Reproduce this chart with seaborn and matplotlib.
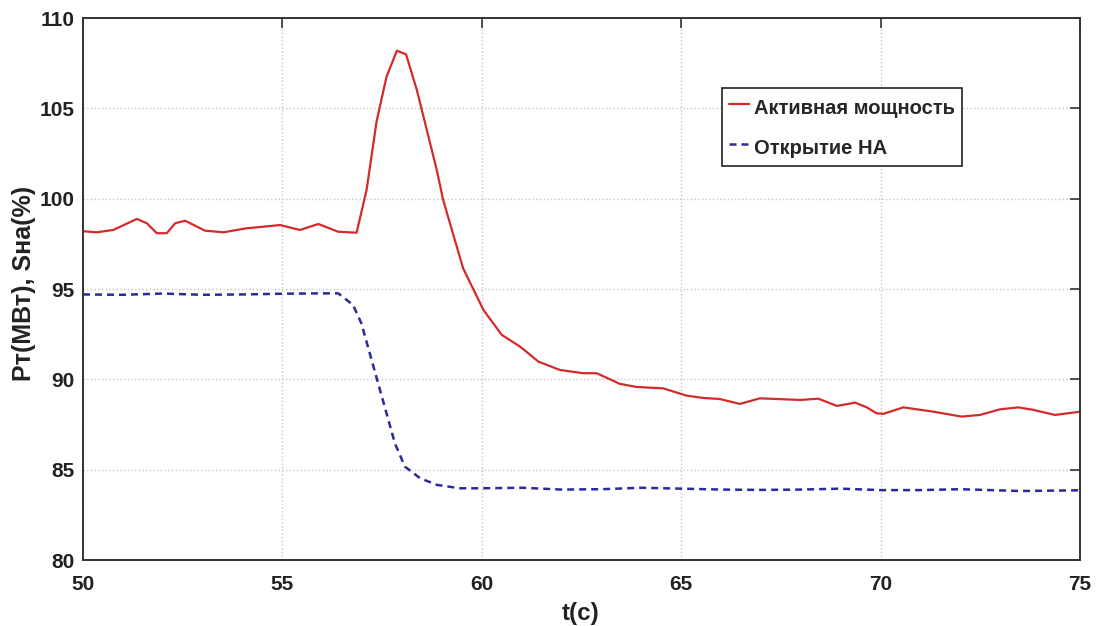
import matplotlib
matplotlib.use("Agg")
import matplotlib.pyplot as plt
import seaborn as sns

# --- данные ---
t_p = [50.0, 50.34, 50.76, 51.35, 51.6, 51.85, 52.1, 52.31, 52.56, 53.06, 53.52,
       54.1, 54.94, 55.44, 55.9, 56.4, 56.86, 57.11, 57.36, 57.61, 57.87, 58.1,
       58.37, 58.87, 59.03, 59.53, 60.04, 60.5, 60.96, 61.42, 61.96, 62.54, 62.88,
       63.46, 63.88, 64.55, 65.13, 65.55, 65.97, 66.47, 66.97, 67.98, 68.44, 68.9,
       69.36, 69.65, 69.9, 70.07, 70.57, 71.32, 72.03, 72.49, 72.99, 73.45, 73.83,
       74.37, 75.0]
p_vals = [98.2, 98.14, 98.27, 98.88, 98.64, 98.09, 98.09, 98.64, 98.78, 98.23, 98.14,
          98.36, 98.54, 98.27, 98.6, 98.17, 98.12, 100.48, 104.26, 106.75, 108.19, 107.99,
          106.02, 101.59, 99.93, 96.15, 93.84, 92.46, 91.81, 90.98, 90.52, 90.34, 90.34,
          89.75, 89.58, 89.5, 89.1, 88.97, 88.91, 88.64, 88.95, 88.86, 88.93, 88.53,
          88.71, 88.45, 88.12, 88.09, 88.45, 88.21, 87.94, 88.03, 88.34, 88.45, 88.31,
          88.03, 88.21]

t_s = [50.0, 51.0, 52.0, 53.0, 54.0, 55.0, 55.94, 56.4, 56.77, 56.98, 57.19, 57.4,
       57.61, 57.82, 58.07, 58.45, 58.87, 59.45, 59.95, 61.0, 62.0, 63.0, 64.0,
       65.0, 66.0, 67.0, 68.0, 69.0, 70.0, 71.0, 72.0, 73.5, 75.0]
s_vals = [94.7, 94.68, 94.75, 94.68, 94.7, 94.74, 94.76, 94.76, 94.12, 93.1, 91.44, 89.78,
          88.12, 86.46, 85.17, 84.53, 84.16, 83.97, 83.97, 84.0, 83.9, 83.92, 84.0,
          83.95, 83.9, 83.88, 83.9, 83.95, 83.87, 83.87, 83.92, 83.82, 83.86]

# --- оформление ---
sns.set_style("white")
plt.rcParams['font.family'] = ['Liberation Sans', 'DejaVu Sans']
plt.rcParams['font.weight'] = 'bold'

fig = plt.figure(figsize=(11.01, 6.26), dpi=100)
ax = fig.add_axes([0.0754, 0.1054, 0.9056, 0.8658])

sns.lineplot(x=t_p, y=p_vals, ax=ax, color='#d42a2a', linewidth=1.6,
             label='Активная мощность')
sns.lineplot(x=t_s, y=s_vals, ax=ax, color='#2a2a9c', linewidth=1.8,
             linestyle=(0, (2.8, 2.0)), label='Открытие НА')

ax.set_xlim(50, 75)
ax.set_ylim(80, 110)
ax.set_xticks([50, 55, 60, 65, 70, 75])
ax.set_yticks([80, 85, 90, 95, 100, 105, 110])
ax.grid(True, linestyle=':', color='#c4c4c4', linewidth=1.0)

for s in ax.spines.values():
    s.set_color('#333333')
    s.set_linewidth(1.4)
ax.tick_params(direction='in', length=7, width=1.2, colors='#333333',
               top=True, right=True, labelsize=15, labelcolor='#222222')
ax.tick_params(axis='x', pad=11)
ax.tick_params(axis='y', pad=6)
for lbl in ax.get_xticklabels() + ax.get_yticklabels():
    lbl.set_fontweight('bold')

ax.set_xlabel('t(с)', fontsize=17.5, fontweight='bold', color='#222222')
ax.set_ylabel('Pт(МВт), Sна(%)', fontsize=18, fontweight='bold', color='#222222')
ax.xaxis.set_label_coords(0.4995, -0.0775)
ax.yaxis.set_label_coords(-0.047, 0.51)

leg = ax.legend(loc='upper left', bbox_to_anchor=(0.641, 0.871), borderaxespad=0,
                frameon=True, fancybox=False, framealpha=1, edgecolor='#222222',
                handlelength=1.0, handleheight=1.5, handletextpad=0.25,
                borderpad=0.35, labelspacing=0.75,
                prop={'size': 14.5, 'weight': 'bold'})
leg.get_frame().set_linewidth(1.2)

plt.savefig('out.png', dpi=100)
plt.close()
